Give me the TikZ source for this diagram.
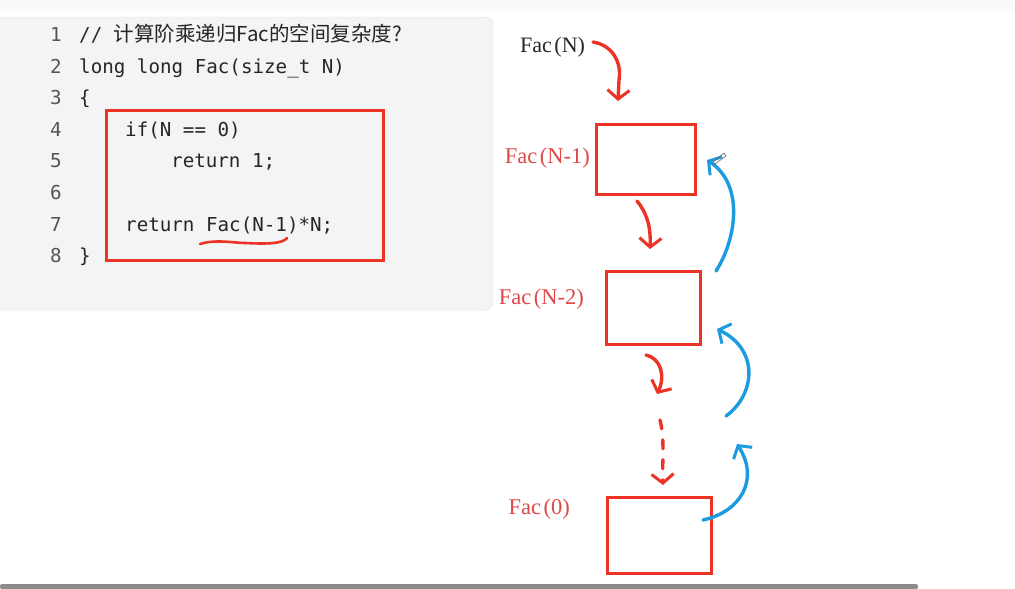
\documentclass[tikz,border=0pt]{standalone}
\usepackage{fontspec}
\setmonofont{DejaVu Sans Mono}
\newfontfamily\cjk{Noto Sans CJK SC}
\newfontfamily\lab{Liberation Serif}
\usetikzlibrary{arrows.meta}
\definecolor{pen}{HTML}{EC3326}
\definecolor{bluepen}{HTML}{1B9BE0}
\definecolor{labred}{HTML}{E04848}
\definecolor{panel}{HTML}{F3F4F4}
\definecolor{numgray}{HTML}{555555}
\begin{document}
\begin{tikzpicture}[x=1pt,y=-1pt,
  codeline/.style={anchor=base west,inner sep=0pt,font=\ttfamily\fontsize{19.2}{21}\selectfont,text=black!85},
  lnum/.style={anchor=base east,inner sep=0pt,font=\ttfamily\fontsize{19.2}{21}\selectfont,text=numgray},
  framebox/.style={draw=pen,line width=2.6pt,fill=white,inner sep=0pt},
  flabel/.style={anchor=base east,inner sep=0pt,font=\lab\fontsize{22.5}{24}\selectfont,text=labred},
  redarrow/.style={draw=pen,line width=3.4pt,line cap=round,line join=round,-{Straight Barb[length=9pt,width=22pt,line width=3pt]}},
  bluearrow/.style={draw=bluepen,line width=3.4pt,line cap=round,line join=round,-{Straight Barb[length=9pt,width=22pt,line width=3pt]}}]
\useasboundingbox (0,0) rectangle (1015,589);
\fill[white] (0,0) rectangle (1015,589);
% top toolbar strip
\fill[black!2] (0,0) rectangle (1015,12);
% code panel
\fill[panel,rounded corners=8pt] (-10,17) rectangle (493,310);
\draw[black!12,rounded corners=8pt] (-10,17) -- (493,17) -- (493,310) -- (-10,310);
% code lines
\foreach \n/\yy in {1/41,2/73,3/104,4/136,5/167,6/199,7/231,8/262}{
  \node[lnum] (ln\n) at (62,\yy) {\n};
}
\node[anchor=base west,inner sep=0pt,font=\fontsize{19.2}{21}\selectfont] (c1) at (79,41) {\ttfamily\color{black!85}// {\cjk\fontsize{20.5}{21}\selectfont 计算阶乘递归Fac的空间复杂度?}};
\node[codeline] (c2) at (79,73) {long long Fac(size\_t N)};
\node[codeline] (c3) at (79,104) {\{};
\node[codeline] (c4) at (125,136) {if(N == 0)};
\node[codeline] (c5) at (171,167) {return 1;};
\node[codeline] (c7) at (125,231) {return Fac(N-1)*N;};
\node[codeline] (c8) at (79,262) {\}};
% red box in code
\node[draw=pen,line width=2.6pt,inner sep=0pt,minimum width=277pt,minimum height=150pt,anchor=north west] (codebox) at (105,109) {};
% underline
\draw[pen,line width=2.6pt,line cap=round] (200,244) .. controls (215,239) and (235,243) .. (245,243) .. controls (265,244) and (283,244) .. (287,238);
% frames
\node[framebox,minimum width=99pt,minimum height=70pt,anchor=north west] (f1) at (595,123) {};
\node[framebox,minimum width=94pt,minimum height=73pt,anchor=north west] (f2) at (605,270) {};
\node[framebox,minimum width=104pt,minimum height=76pt,anchor=north west] (f3) at (606,496) {};
% labels
\node[anchor=base west,inner sep=0pt,font=\lab\fontsize{22}{24}\selectfont,text=black!85] (fn) at (520,52) {Fac\kern2.5pt(N)};
\node[flabel] (l1) at (590,163) {Fac\kern2.5pt(N-1)};
\node[flabel] (l2) at (584,304) {Fac\kern2.5pt(N-2)};
\node[flabel] (l3) at (570,514) {Fac\kern2.5pt(0)};
% red arrows
\coordinate (r1s) at (593,42);
\coordinate (r1e) at (618,101);
\draw[redarrow] (r1s) .. controls (612,45) and (622,62) .. (619,80) -- (r1e);
\coordinate (r2s) at (637,201);
\coordinate (r2e) at (650,249);
\draw[redarrow] (r2s) .. controls (646,212) and (651,225) .. (r2e);
\coordinate (r3s) at (646,355);
\coordinate (r3e) at (657,394);
\draw[redarrow] (r3s) .. controls (660,358) and (666,375) .. (r3e);
\coordinate (r4s) at (660,420);
\coordinate (r4e) at (663,485);
\draw[redarrow,dash pattern=on 9pt off 11pt] (r4s) .. controls (665,440) and (662,460) .. (r4e);
% blue arrows
\coordinate (b1s) at (716,271);
\coordinate (b1e) at (707,160);
\draw[bluearrow] (b1s) .. controls (736,240) and (745,185) .. (b1e);
\coordinate (b2s) at (726,416);
\coordinate (b2e) at (717,329);
\draw[bluearrow] (b2s) .. controls (755,395) and (760,350) .. (b2e);
\coordinate (b3s) at (703,520);
\coordinate (b3e) at (737,444);
\draw[bluearrow] (b3s) .. controls (740,512) and (760,480) .. (b3e);
% pencil cursor
\draw[black!60,line width=0.6pt] (713,162) -- (724,153) -- (726,156) -- (715,164) -- cycle;
% scrollbar
\fill[black!45,rounded corners=2pt] (0,584) rectangle (918,589);
\end{tikzpicture}
\end{document}
